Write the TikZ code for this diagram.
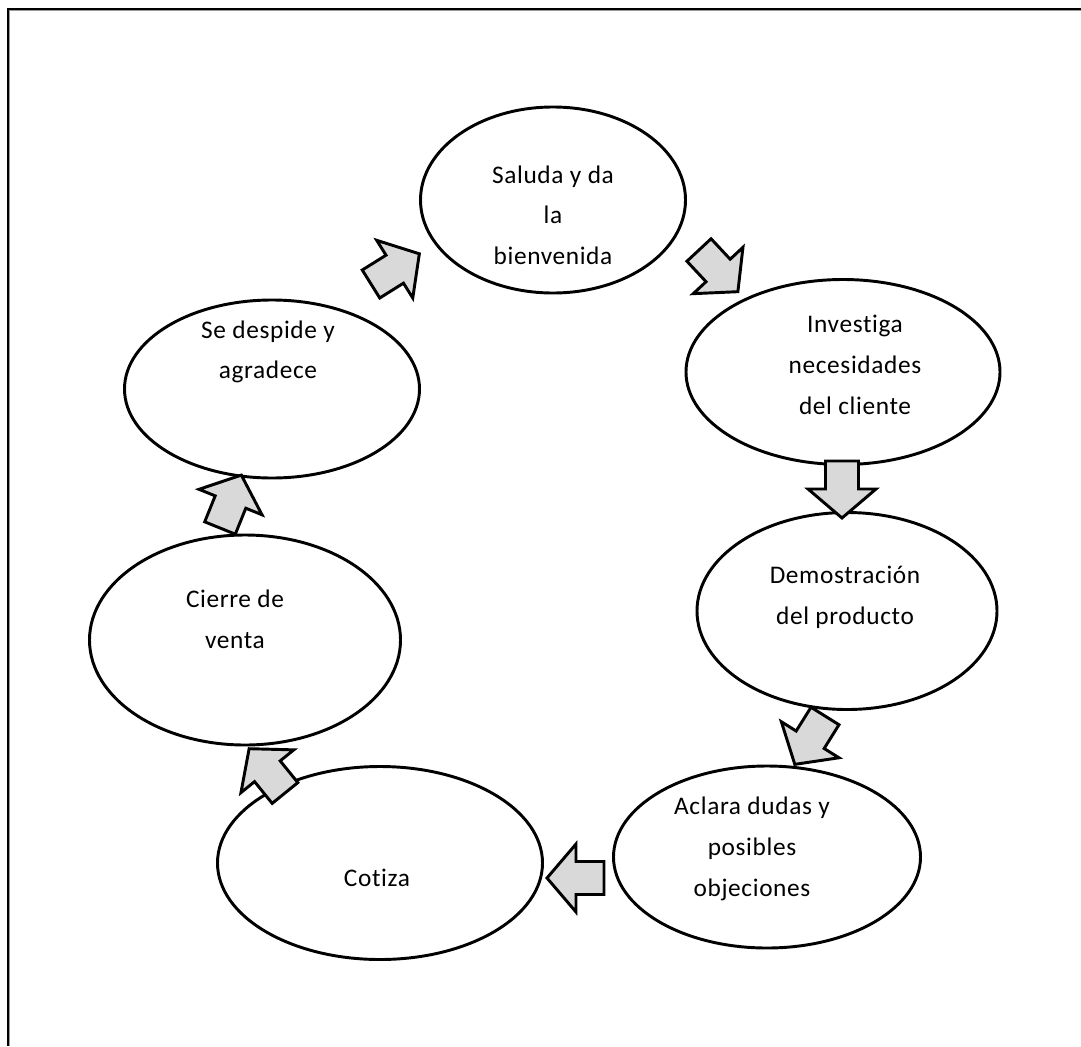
\documentclass[tikz,border=0pt]{standalone}
\usepackage{fontspec}
\setmainfont[LetterSpace=2.5, Ligatures={NoCommon}]{Carlito}
\usetikzlibrary{shapes.geometric}
\definecolor{arrowgray}{HTML}{D9D9D9}
\definecolor{framegray}{HTML}{9A9A9A}
\tikzset{
  stage/.style={draw=black, line width=2.2pt, ellipse, inner sep=0pt, fill=white},
  stagetext/.style={align=center, font=\fontsize{19}{30.5}\selectfont},
  arrowbody/.style={draw=black, fill=arrowgray, line width=2.2pt, line join=miter},
  blockarrow/.pic={
    \draw[arrowbody] (0,-16.5) -- (28,-16.5) -- (28,-34) -- (57,0)
      -- (28,34) -- (28,16.5) -- (0,16.5) -- cycle;
  }
}
\begin{document}
\begin{tikzpicture}[x=0.75pt,y=-0.75pt]
\useasboundingbox (0,0) rectangle (1081,1046);

% page frame (top and left edges)
\draw[framegray, line width=0.8pt] (9.8,1046) -- (9.8,10.8) -- (1081,10.8);
\draw[black, line width=2pt] (8,1046) -- (8,9) -- (1081,9);

% stages of the sale
\node[stage, minimum width=198.75pt, minimum height=139.5pt] (saluda) at (553,200) {};
\node[stage, minimum width=235.5pt, minimum height=138.75pt] (investiga) at (843,372) {};
\node[stage, minimum width=225pt, minimum height=147.75pt] (demo) at (847,611) {};
\node[stage, minimum width=230.25pt, minimum height=136.5pt] (aclara) at (767,857) {};
\node[stage, minimum width=243.75pt, minimum height=144.75pt] (cotiza) at (380,863) {};
\node[stage, minimum width=233.25pt, minimum height=157.5pt] (cierre) at (245,640) {};
\node[stage, minimum width=221.25pt, minimum height=133.5pt] (despide) at (272,389) {};

% labels
\node[stagetext] (tsaluda) at (553,215) {Saluda y da\\la\\bienvenida};
\node[stagetext] (tinvestiga) at (855,365) {Investiga\\necesidades\\del cliente};
\node[stagetext] (tdemo) at (845,597) {Demostración\\del producto};
\node[stagetext] (taclara) at (752,849) {Aclara dudas y\\posibles\\objeciones};
\node[stagetext] (tcotiza) at (377,878) {Cotiza};
\node[stagetext] (tcierre) at (235,619) {Cierre de\\venta};
\node[stagetext] (tdespide) at (268,352) {Se despide y\\agradece};

% block arrows between the stages
\pic (a1) [rotate=-47] at (699,250) {blockarrow};
\pic (a2) [rotate=-90] at (842,461) {blockarrow};
\pic (a3) [rotate=-122] at (825,716) {blockarrow};
\pic (a4) [rotate=180] at (604,878) {blockarrow};
\pic (a5) [rotate=129] at (285,793) {blockarrow};
\pic (a6) [rotate=68] at (220,528) {blockarrow};
\pic (a7) [rotate=32] at (371,284) {blockarrow};
\end{tikzpicture}
\end{document}
